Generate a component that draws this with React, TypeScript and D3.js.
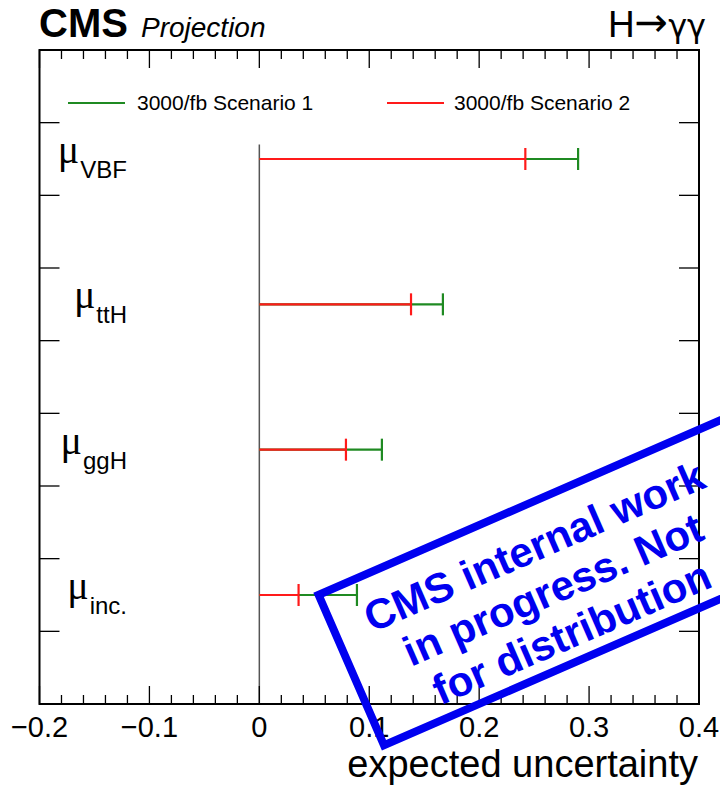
import React from "react";
import * as d3 from "d3";

const categories = ["VBF", "ttH", "ggH", "inc."];
const rowPositions = [7.5, 5.5, 3.5, 1.5];
const scenario1 = [0.29, 0.167, 0.1115, 0.0888];
const scenario2 = [0.242, 0.138, 0.0788, 0.0357];
const seriesNames = ["3000/fb Scenario 1", "3000/fb Scenario 2"];
const xTicks = [-0.2, -0.1, 0, 0.1, 0.2, 0.3, 0.4];
const yTicks = [1, 2, 3, 4, 5, 6, 7, 8];
const stampLines = ["CMS internal work", "in progress. Not", "for distribution"];

const W = 720;
const H = 787;
const L = 39.5, R = 699, T = 50, B = 704;
const GREEN = "#1f8a22";
const RED = "#ff1a1a";
const BLUE = "#0000f0";
const SANS = "'Liberation Sans', Arial, Helvetica, sans-serif";
const SERIF = "'Liberation Serif', 'Times New Roman', serif";
const DEJAVU = "'DejaVu Sans', sans-serif";

export default function App() {
  const x = d3.scaleLinear().domain([-0.2, 0.4]).range([L, R]);
  const y = d3.scaleLinear().domain([0, 9]).range([B, T]);
  const minor = d3.range(-0.2, 0.4001, 0.02).map((v) => +v.toFixed(3));
  const fmt = (v: number) => (v < 0 ? "\u2212" + Math.abs(v) : String(v));

  return (
    <svg width={W} height={H} style={{ position: "absolute", left: 0, top: 0, background: "#fff" }}>
      <rect x={0} y={0} width={W} height={H} fill="#fff" />
      {/* header */}
      <text x={39} y={37} fontFamily={SANS} fontWeight="bold" fontSize={40}>CMS</text>
      <text x={141} y={37} fontFamily={SANS} fontStyle="italic" fontSize={28}>Projection</text>
      <text x={706} y={37} textAnchor="end" fontSize={37}>
        <tspan fontFamily={SANS}>H</tspan>
        <tspan fontFamily={DEJAVU} fontSize={40} dy={-1}>→</tspan>
        <tspan fontFamily={DEJAVU} fontSize={32} dy={1}>γγ</tspan>
      </text>

      {/* zero line */}
      <line x1={x(0)} x2={x(0)} y1={y(7.7)} y2={y(0)} stroke="#555" strokeWidth={1.5} />

      {/* x ticks */}
      {minor.map((v, i) => {
        const major = Math.abs(Math.round(v * 10) - v * 10) < 1e-6;
        const len = major ? 18 : 9;
        return (
          <g key={"xt" + i}>
            <line x1={x(v)} x2={x(v)} y1={B} y2={B - len} stroke="#000" strokeWidth={1.3} />
            <line x1={x(v)} x2={x(v)} y1={T} y2={T + len} stroke="#000" strokeWidth={1.3} />
          </g>
        );
      })}
      {/* y ticks */}
      {yTicks.map((v) => (
        <g key={"yt" + v}>
          <line x1={L} x2={L + 20} y1={y(v)} y2={y(v)} stroke="#000" strokeWidth={1.3} />
          <line x1={R} x2={R - 20} y1={y(v)} y2={y(v)} stroke="#000" strokeWidth={1.3} />
        </g>
      ))}
      {/* frame */}
      <rect x={L} y={T} width={R - L} height={B - T} fill="none" stroke="#000" strokeWidth={2} />

      {/* x tick labels */}
      {xTicks.map((v) => (
        <text key={"xl" + v} x={x(v)} y={737} fontFamily={SANS} fontSize={29} textAnchor="middle">
          {fmt(v)}
        </text>
      ))}
      <text x={698} y={777} fontFamily={SANS} fontSize={38} textAnchor="end">expected uncertainty</text>

      {/* legend */}
      <line x1={68} x2={125} y1={103} y2={103} stroke={GREEN} strokeWidth={2} />
      <text x={137} y={110} fontFamily={SANS} fontSize={21}>{seriesNames[0]}</text>
      <line x1={387} x2={444} y1={103} y2={103} stroke={RED} strokeWidth={2} />
      <text x={454} y={110} fontFamily={SANS} fontSize={21}>{seriesNames[1]}</text>

      {/* rows */}
      {categories.map((c, i) => {
        const yy = y(rowPositions[i]);
        return (
          <g key={c}>
            <text x={127} y={yy + 4} textAnchor="end">
              <tspan fontFamily={SERIF} fontSize={40}>μ</tspan>
              <tspan fontFamily={SANS} fontSize={24} dy={15} dx={1}>{c}</tspan>
            </text>
            <line x1={x(0)} x2={x(scenario1[i])} y1={yy} y2={yy} stroke={GREEN} strokeWidth={2.2} />
            <line x1={x(scenario1[i])} x2={x(scenario1[i])} y1={yy - 11} y2={yy + 11} stroke={GREEN} strokeWidth={2.2} />
            <line x1={x(0)} x2={x(scenario2[i])} y1={yy} y2={yy} stroke={RED} strokeWidth={2.2} />
            <line x1={x(scenario2[i])} x2={x(scenario2[i])} y1={yy - 11} y2={yy + 11} stroke={RED} strokeWidth={2.2} />
          </g>
        );
      })}

      {/* stamp */}
      <g transform="translate(552,585) rotate(-23.5)">
        <rect x={-218} y={-84} width={470} height={164} fill="none" stroke={BLUE} strokeWidth={8} />
        {stampLines.map((s, i) => (
          <text key={s} x={-1} y={-28 + i * 47} textAnchor="middle" fontFamily={SANS} fontWeight="bold" fontSize={42} fill={BLUE}>
            {s}
          </text>
        ))}
      </g>
    </svg>
  );
}
